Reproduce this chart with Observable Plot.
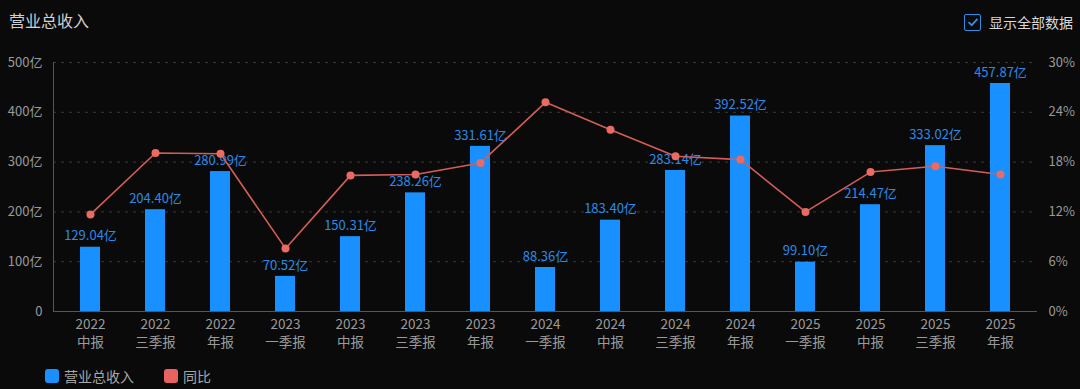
<!DOCTYPE html>
<html>
<head>
<meta charset="utf-8">
<script src="https://cdn.jsdelivr.net/npm/d3@7"></script>
<script src="https://cdn.jsdelivr.net/npm/@observablehq/plot@0.6"></script>
<style>
  html, body { margin: 0; padding: 0; background: #0a0a0a; }
  body { width: 1080px; height: 389px; overflow: hidden; position: relative;
         font-family: "Noto Sans CJK SC", "Noto Sans", sans-serif; }
  #title { position: absolute; left: 9px; top: 8px; font-size: 16px; color: #d0d0d0; }
  #toggle { position: absolute; left: 964px; top: 12px; display: flex; align-items: center;
            font-size: 14px; color: #d8d8d8; }
  #toggle .box { width: 15px; height: 15px; border: 1.5px solid #2f8fe8; border-radius: 2px;
                 margin-right: 8px; display: flex; align-items: center; justify-content: center; }
  #chart { position: absolute; left: 0; top: 45px; }
  #legend { position: absolute; left: 45px; top: 366px; display: flex; align-items: center;
            font-size: 14px; color: #a8a8a8; }
  #legend .item { display: flex; align-items: center; margin-right: 30px; }
  #legend .sw { width: 14px; height: 14px; border-radius: 3px; margin-right: 5px; }
</style>
</head>
<body>
<div id="title">营业总收入</div>
<div id="toggle"><span class="box"><svg width="12" height="12" viewBox="0 0 12 12"><path d="M1.5 6.2 L4.7 9.2 L10.5 2.8" fill="none" stroke="#2f8fe8" stroke-width="1.8"/></svg></span>显示全部数据</div>
<div id="chart"></div>
<div id="legend">
  <div class="item"><span class="sw" style="background:#1890ff"></span>营业总收入</div>
  <div class="item"><span class="sw" style="background:#e8635f"></span>同比</div>
</div>
<script>
const years = ["2022","2022","2022","2023","2023","2023","2023","2024","2024","2024","2024","2025","2025","2025","2025"];
const periods = ["中报","三季报","年报","一季报","中报","三季报","年报","一季报","中报","三季报","年报","一季报","中报","三季报","年报"];
const revenue = [129.04,204.40,280.99,70.52,150.31,238.26,331.61,88.36,183.40,283.14,392.52,99.10,214.47,333.02,457.87];
const yoy = [11.7,19.1,19.0,7.6,16.4,16.5,17.9,25.2,21.9,18.7,18.3,12.0,16.8,17.5,16.5];
const leftTicks = [0,100,200,300,400,500];
const rightMax = 30;
const leftMax = 500;

const cats = years.map((y,i) => y + " " + periods[i]);
const data = cats.map((c,i) => ({cat: c, rev: revenue[i], yoy: yoy[i], yScaled: yoy[i] * leftMax / rightMax}));

const axisColor = "#9a9a9a";
const chart = Plot.plot({
  width: 1080,
  height: 315,
  marginTop: 17,
  marginBottom: 49,
  marginLeft: 53,
  marginRight: 43,
  style: {background: "transparent", fontFamily: "'Noto Sans CJK SC', sans-serif"},
  x: {domain: cats, paddingInner: 0.69, paddingOuter: 0.41, label: null},
  y: {domain: [0, leftMax], label: null},
  marks: [
    Plot.ruleY(leftTicks.filter(d => d > 0), {stroke: "#3a3a3a", strokeDasharray: "3,5"}),
    Plot.frame({anchor: "left", stroke: "#4a5868"}),
    Plot.ruleY([0], {stroke: "#4a5868"}),
    Plot.axisY({ticks: leftTicks, tickFormat: d => d === 0 ? "0" : d + "亿", tickSize: 0, tickPadding: 11,
                fontSize: 13, fill: axisColor, label: null}),
    Plot.axisY({anchor: "right", ticks: leftTicks, tickFormat: d => Math.round(d * rightMax / leftMax) + "%",
                tickSize: 0, tickPadding: 11, fontSize: 13, fill: axisColor, textAnchor: "start", label: null}),
    Plot.axisX({tickSize: 0, tickPadding: 8, fontSize: 13.5, fill: axisColor, label: null,
                tickFormat: d => years[cats.indexOf(d)]}),
    Plot.axisX({tickSize: 0, tickPadding: 26, fontSize: 13.5, fill: axisColor, label: null,
                tickFormat: d => periods[cats.indexOf(d)]}),
    Plot.barY(data, {x: "cat", y: "rev", fill: "#1890ff"}),
    Plot.text(data, {x: "cat", y: "rev", text: d => d.rev.toFixed(2) + "亿", dy: -11, fill: "#2a8ae8", fontSize: 13}),
    Plot.line(data, {x: "cat", y: "yScaled", stroke: "#d45d5a", strokeWidth: 1.6}),
    Plot.dot(data, {x: "cat", y: "yScaled", r: 4, fill: "#ea6a64", stroke: "none"})
  ]
});
document.getElementById("chart").appendChild(chart);
</script>
</body>
</html>
